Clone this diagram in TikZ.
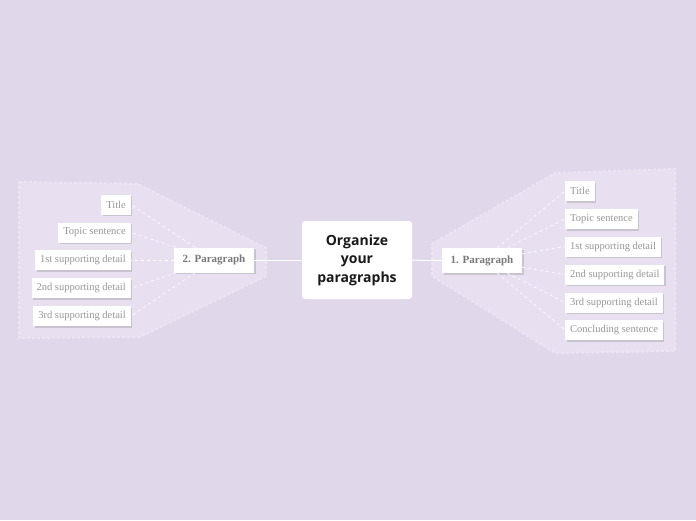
\documentclass[tikz,border=0pt]{standalone}
\usepackage{fontspec}
\setmainfont{Liberation Serif}
\setsansfont{Open Sans}
\usepackage{tikz}
\usetikzlibrary{positioning, shadows}
\definecolor{mapbg}{RGB}{225, 215, 235}
\definecolor{hullfill}{RGB}{232, 224, 241}
\definecolor{hulledge}{RGB}{236, 229, 243}
\definecolor{leafgray}{RGB}{150, 150, 150}
\definecolor{branchgray}{RGB}{120, 120, 120}
\definecolor{rootink}{RGB}{25, 25, 25}
\tikzstyle{root} = [rectangle, fill=white, rounded corners=3pt, align=center, minimum width=110pt, minimum height=78pt, text=rootink, font=\sffamily\bfseries\fontsize{14}{18.5}\selectfont]
\tikzstyle{branch} = [rectangle, fill=white, minimum width=80pt, minimum height=25pt, text=branchgray, font=\bfseries\fontsize{11}{13}\selectfont, drop shadow={shadow xshift=1.5pt, shadow yshift=-1.5pt, opacity=0.3}]
\tikzstyle{leaf} = [rectangle, fill=white, minimum height=20pt, inner xsep=5pt, text=leafgray, font=\fontsize{10.5}{12}\selectfont, drop shadow={shadow xshift=1.5pt, shadow yshift=-1.5pt, opacity=0.3}]
\tikzstyle{hull} = [fill=hullfill, draw=hulledge, dash pattern=on 3pt off 2pt, line width=2pt]
\tikzstyle{link} = [white, line width=1pt]
\tikzstyle{sublink} = [white, dashed, line width=0.6pt]

\begin{document}
\begin{tikzpicture}[x=1pt, y=-1pt]
    % Background
    \fill[mapbg] (0,0) rectangle (696,520);
    \useasboundingbox (0,0) rectangle (696,520);

    % Hulls
    \draw[hull] (432,244) -- (555,173) -- (675,169) -- (675,351) -- (555,353) -- (432,276) -- cycle;
    \draw[hull] (19,182) -- (138,184) -- (266,248) -- (266,276) -- (140,337) -- (19,338) -- cycle;

    % Central topic
    \node[root] (org) at (357,260) {Organize\\your\\paragraphs};

    % First paragraph
    \node[branch] (p1) at (482,260.5) {1. Paragraph};
    \node[leaf, anchor=west] (p1title) at (565,191) {Title};
    \node[leaf, anchor=west] (p1topic) at (565,219) {Topic sentence};
    \node[leaf, anchor=west] (p1first) at (565,246.5) {1st supporting detail};
    \node[leaf, anchor=west] (p1second) at (565,274.5) {2nd supporting detail};
    \node[leaf, anchor=west] (p1third) at (565,302.5) {3rd supporting detail};
    \node[leaf, anchor=west] (p1concl) at (565,330) {Concluding sentence};

    % Second paragraph
    \node[branch] (p2) at (214,260) {2. Paragraph};
    \node[leaf, anchor=east] (p2title) at (131,204.5) {Title};
    \node[leaf, anchor=east] (p2topic) at (131,232.5) {Topic sentence};
    \node[leaf, anchor=east] (p2first) at (131,260) {1st supporting detail};
    \node[leaf, anchor=east] (p2second) at (131,288) {2nd supporting detail};
    \node[leaf, anchor=east] (p2third) at (131,316) {3rd supporting detail};

    % Connectors
    \draw[link] (org) -- (p1);
    \draw[link] (org) -- (p2);
    \foreach \leaf in {p1title, p1topic, p1first, p1second, p1third, p1concl}
        \draw[sublink] (p1) -- (\leaf.west);
    \foreach \leaf in {p2title, p2topic, p2first, p2second, p2third}
        \draw[sublink] (p2) -- (\leaf.east);
\end{tikzpicture}
\end{document}
